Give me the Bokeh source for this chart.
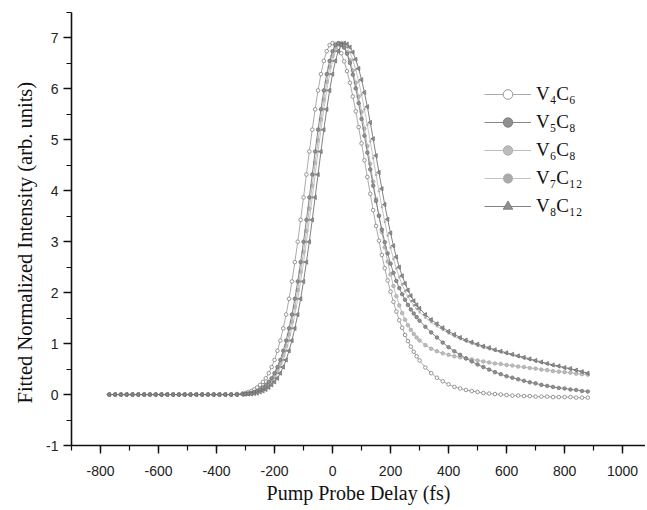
import math
from bokeh.plotting import figure
from bokeh.models import (Range1d, SingleIntervalTicker, Legend, LegendItem,
                          CustomJSTickFormatter, Title)
from bokeh.embed import file_html
from bokeh.resources import INLINE

# ---- data (pump-probe delay in fs, fitted normalized intensity) ----
TIME_FLAT = list(range(-770, -309, 20))   # baseline samples
TIME_PEAK = list(range(-300, 301, 10))    # around the peak
TIME_TAIL = list(range(320, 881, 20))     # decay tail
time_fs = TIME_FLAT + TIME_PEAK + TIME_TAIL

v4c6 = [0.0, 0.0, 0.0, 0.0, 0.0, 0.0, 0.0, 0.0, 0.0, 0.0, 0.0, 0.0,
        0.0, 0.0, 0.0, 0.0, 0.0, 0.0, 0.0, 0.0, 0.0, 0.0, 0.01, 0.02,
        0.03, 0.05, 0.07, 0.10, 0.14, 0.19, 0.25, 0.32, 0.42, 0.54, 0.68,
        0.86, 1.06, 1.30, 1.57, 1.88, 2.22, 2.60, 3.00, 3.43, 3.87, 4.32,
        4.77, 5.20, 5.60, 5.97, 6.29, 6.55, 6.74, 6.86, 6.90,
        6.88, 6.81, 6.70, 6.54, 6.35, 6.12, 5.85, 5.56, 5.25, 4.93,
        4.60, 4.27, 3.94, 3.62, 3.31, 3.02, 2.74, 2.48, 2.24, 2.02,
        1.82, 1.63, 1.46, 1.31, 1.17, 1.05, 0.94, 0.84, 0.75, 0.67,
        0.53, 0.42, 0.33, 0.26, 0.20, 0.15, 0.12, 0.09, 0.07, 0.05,
        0.03, 0.02, 0.01, 0.00, -0.01, -0.02, -0.02, -0.03, -0.03, -0.04,
        -0.04, -0.04, -0.05, -0.05, -0.05, -0.05, -0.06, -0.06, -0.06]

v5c8 = [0.0, 0.0, 0.0, 0.0, 0.0, 0.0, 0.0, 0.0, 0.0, 0.0, 0.0, 0.0,
        0.0, 0.0, 0.0, 0.0, 0.0, 0.0, 0.0, 0.0, 0.0, 0.0, 0.0, 0.01,
        0.01, 0.02, 0.03, 0.05, 0.07, 0.10, 0.14, 0.19, 0.25, 0.32, 0.42,
        0.54, 0.68, 0.86, 1.06, 1.30, 1.57, 1.88, 2.22, 2.60, 3.00, 3.43,
        3.87, 4.32, 4.77, 5.20, 5.60, 5.97, 6.29, 6.55, 6.74, 6.86, 6.90,
        6.88, 6.81, 6.69, 6.51, 6.28, 6.01, 5.72, 5.41,
        5.08, 4.75, 4.42, 4.10, 3.80, 3.51, 3.24, 2.99, 2.77, 2.57,
        2.39, 2.23, 2.09, 1.97, 1.86, 1.76, 1.67, 1.59, 1.52, 1.45,
        1.33, 1.22, 1.12, 1.02, 0.93, 0.85, 0.78, 0.71, 0.65, 0.59,
        0.54, 0.49, 0.44, 0.40, 0.36, 0.33, 0.30, 0.27, 0.24, 0.22,
        0.19, 0.17, 0.15, 0.13, 0.12, 0.10, 0.09, 0.07, 0.06]

v6c8 = [0.0, 0.0, 0.0, 0.0, 0.0, 0.0, 0.0, 0.0, 0.0, 0.0, 0.0, 0.0,
        0.0, 0.0, 0.0, 0.0, 0.0, 0.0, 0.0, 0.0, 0.0, 0.0, 0.0, 0.01,
        0.01, 0.02, 0.03, 0.04, 0.06, 0.09, 0.12, 0.16, 0.22, 0.28, 0.37,
        0.48, 0.61, 0.77, 0.96, 1.18, 1.43, 1.72, 2.05, 2.41, 2.80, 3.21,
        3.65, 4.10, 4.55, 4.99, 5.40, 5.79, 6.14, 6.43, 6.65, 6.81, 6.89,
        6.90,
        6.83, 6.72, 6.56, 6.36, 6.12, 5.85, 5.55,
        5.22, 4.88, 4.53, 4.18, 3.84, 3.51, 3.19, 2.89, 2.61, 2.36,
        2.13, 1.93, 1.75, 1.60, 1.47, 1.36, 1.27, 1.19, 1.12, 1.06,
        0.97, 0.90, 0.85, 0.81, 0.78, 0.75, 0.73, 0.71, 0.69, 0.67,
        0.65, 0.63, 0.61, 0.60, 0.58, 0.57, 0.55, 0.54, 0.52, 0.51,
        0.49, 0.48, 0.46, 0.45, 0.44, 0.43, 0.41, 0.40, 0.39]

v7c12 = [0.0, 0.0, 0.0, 0.0, 0.0, 0.0, 0.0, 0.0, 0.0, 0.0, 0.0, 0.0,
         0.0, 0.0, 0.0, 0.0, 0.0, 0.0, 0.0, 0.0, 0.0, 0.0, 0.0, 0.0,
         0.01, 0.01, 0.02, 0.03, 0.05, 0.07, 0.10, 0.14, 0.19, 0.25, 0.32,
         0.42, 0.54, 0.68, 0.86, 1.06, 1.30, 1.57, 1.88, 2.22, 2.60, 3.00,
         3.43, 3.87, 4.32, 4.77, 5.20, 5.60, 5.97, 6.29, 6.55, 6.74, 6.86,
         6.90,
         6.88, 6.82, 6.72, 6.57, 6.38, 6.15, 5.89,
         5.60, 5.29, 4.97, 4.64, 4.31, 3.99, 3.68, 3.39, 3.12, 2.88,
         2.66, 2.47, 2.30, 2.16, 2.03, 1.92, 1.83, 1.75, 1.68, 1.62,
         1.51, 1.42, 1.34, 1.27, 1.20, 1.14, 1.09, 1.04, 1.00, 0.96,
         0.92, 0.89, 0.86, 0.83, 0.80, 0.77, 0.74, 0.71, 0.68, 0.65,
         0.62, 0.60, 0.57, 0.55, 0.52, 0.50, 0.47, 0.45, 0.42]

v8c12 = [0.0, 0.0, 0.0, 0.0, 0.0, 0.0, 0.0, 0.0, 0.0, 0.0, 0.0, 0.0,
         0.0, 0.0, 0.0, 0.0, 0.0, 0.0, 0.0, 0.0, 0.0, 0.0, 0.0, 0.0,
         0.01, 0.01, 0.01, 0.02, 0.03, 0.05, 0.07, 0.10, 0.14, 0.19, 0.25,
         0.32, 0.42, 0.54, 0.68, 0.86, 1.06, 1.30, 1.57, 1.88, 2.22, 2.60,
         3.00, 3.43, 3.87, 4.32, 4.77, 5.20, 5.60, 5.97, 6.29, 6.55, 6.74,
         6.86, 6.90,
         6.88, 6.82, 6.72, 6.58, 6.40, 6.18,
         5.93, 5.65, 5.34, 5.02, 4.69, 4.36, 4.04, 3.73, 3.44, 3.17,
         2.92, 2.70, 2.50, 2.33, 2.18, 2.05, 1.94, 1.84, 1.76, 1.69,
         1.57, 1.47, 1.39, 1.31, 1.24, 1.18, 1.12, 1.07, 1.03, 0.99,
         0.95, 0.92, 0.88, 0.85, 0.82, 0.79, 0.76, 0.73, 0.70, 0.67,
         0.64, 0.61, 0.58, 0.56, 0.53, 0.51, 0.48, 0.45, 0.42]

labels = ["V₄C₆", "V₅C₈", "V₆C₈", "V₇C₁₂", "V₈C₁₂"]

for arr in (v4c6, v5c8, v6c8, v7c12, v8c12):
    assert len(arr) == len(time_fs), (len(arr), len(time_fs))

# ---- figure ----
p = figure(width=645, height=508, output_backend="svg", toolbar_location=None,
           x_range=Range1d(-900, 1079), y_range=Range1d(-1, 7.5),
           min_border_left=71, min_border_right=0, min_border_top=12,
           min_border_bottom=63)
p.outline_line_color = None
p.xgrid.visible = False
p.ygrid.visible = False
p.background_fill_color = "white"

p.xaxis.ticker = SingleIntervalTicker(interval=200, num_minor_ticks=2)
p.yaxis.ticker = SingleIntervalTicker(interval=1, num_minor_ticks=2)
p.xaxis.formatter = CustomJSTickFormatter(code="return tick.toFixed(0);")
p.yaxis.formatter = CustomJSTickFormatter(code="return tick.toFixed(0);")
p.xaxis.axis_label = "Pump Probe Delay (fs)"

for ax in (p.xaxis[0], p.yaxis[0]):
    ax.axis_line_color = "#111111"
    ax.axis_line_width = 1.6
    ax.major_tick_line_color = "#111111"
    ax.minor_tick_line_color = "#111111"
    ax.major_tick_line_width = 1.4
    ax.minor_tick_line_width = 1.2
    ax.major_tick_out = 8
    ax.major_tick_in = 0
    ax.minor_tick_out = 5
    ax.minor_tick_in = 0
    ax.major_label_text_font = "Liberation Sans"
    ax.major_label_text_font_size = "14px"
    ax.major_label_text_color = "#222222"
    ax.axis_label_text_font = "Liberation Serif"
    ax.axis_label_text_font_size = "20px"
    ax.axis_label_text_font_style = "normal"
    ax.axis_label_text_color = "#111111"
p.xaxis.major_label_standoff = 12
p.xaxis.axis_label_standoff = 3
p.yaxis.major_label_standoff = 5

# y-axis title, placed a little below centre as in the original
ytitle = Title(text="Fitted Normalized Intensity (arb. units)", align="left",
               offset=42, standoff=15, text_font="Liberation Serif",
               text_font_size="20.5px", text_font_style="normal",
               text_color="#111111")
p.add_layout(ytitle, "left")

# ---- series ----
r4l = p.line(time_fs, v4c6, line_color="#a0a0a0", line_width=0.9)
r4s = p.scatter(time_fs, v4c6, marker="circle", size=3.6, line_color="#7e7e7e",
                fill_color="white", line_width=0.8)
r6l = p.line(time_fs, v6c8, line_color="#b4b4b4", line_width=0.9)
r6s = p.scatter(time_fs, v6c8, marker="circle", size=3.6, line_color="#a4a4a4",
                fill_color="#bcbcbc", line_width=0.7)
r7l = p.line(time_fs, v7c12, line_color="#bcbcbc", line_width=0.9)
r7s = p.scatter(time_fs, v7c12, marker="circle", size=2.0, line_color="#aaaaaa",
                fill_color="#aaaaaa", line_width=0.5)
r5l = p.line(time_fs, v5c8, line_color="#787878", line_width=0.9)
r5s = p.scatter(time_fs, v5c8, marker="circle", size=3.6, line_color="#6e6e6e",
                fill_color="#909090", line_width=0.7)
r8l = p.line(time_fs, v8c12, line_color="#747474", line_width=0.9)
r8s = p.scatter(time_fs, v8c12, marker="triangle", angle=math.pi / 2, size=4.2,
                line_color="#6a6a6a", fill_color="#909090", line_width=0.7)

legend = Legend(items=[
    LegendItem(label=labels[0], renderers=[r4l, r4s]),
    LegendItem(label=labels[1], renderers=[r5l, r5s]),
    LegendItem(label=labels[2], renderers=[r6l, r6s]),
    LegendItem(label=labels[3], renderers=[r7l, r7s]),
    LegendItem(label=labels[4], renderers=[r8l, r8s]),
], location=(413, 227), padding=0, margin=0, spacing=4,
   glyph_width=47, glyph_height=24, label_height=24, label_standoff=5,
   border_line_color=None, background_fill_alpha=0,
   label_text_font="Liberation Serif", label_text_font_size="19px",
   label_text_color="#111111")
p.add_layout(legend)

open("out.html", "w").write(file_html(p, INLINE))
